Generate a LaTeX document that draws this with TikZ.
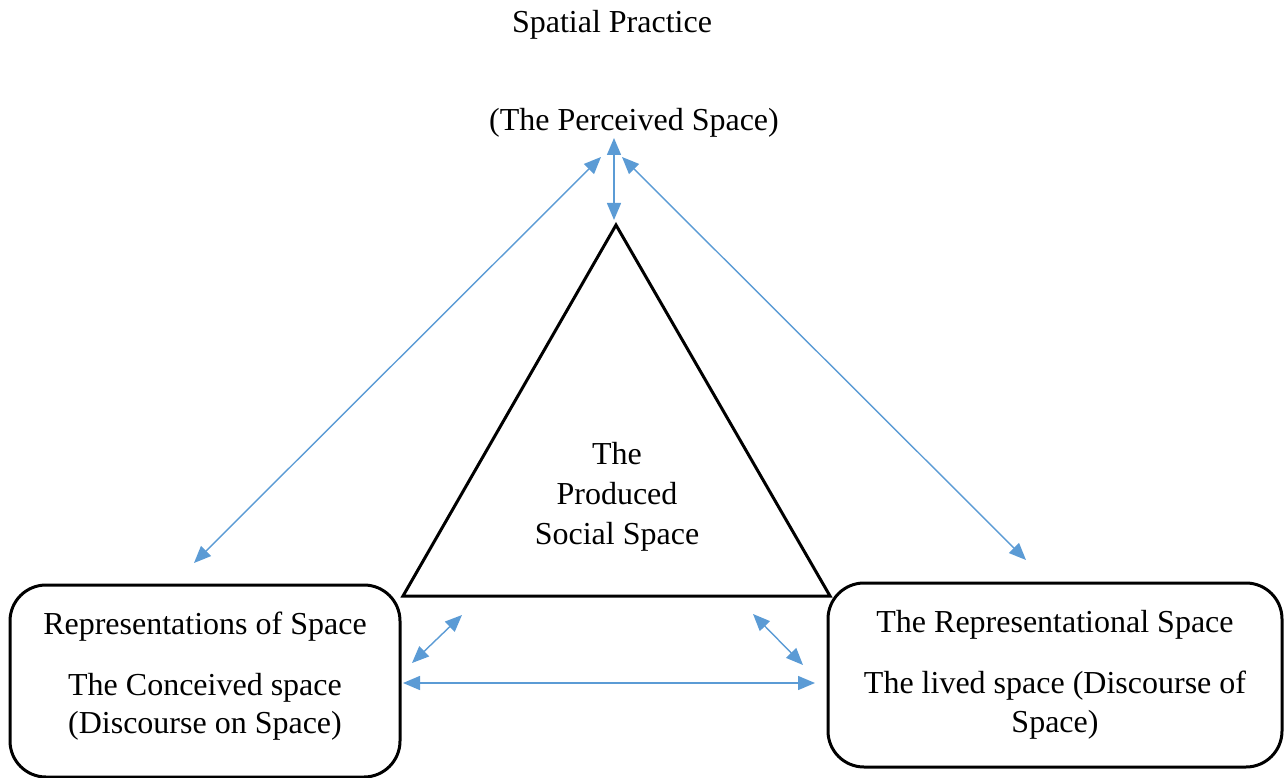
\documentclass[tikz,border=0pt]{standalone}
\usepackage{fontspec}
\setmainfont{Liberation Serif}
\usetikzlibrary{arrows.meta}
\definecolor{arrowblue}{HTML}{5B9BD5}
\tikzset{
  lbl/.style={font=\fontsize{32}{38}\selectfont, anchor=base, inner sep=0pt},
  boxshape/.style={draw=black, line width=3pt, rounded corners=36pt},
  tri/.style={draw=black, line width=3pt, line join=miter},
  link/.style={draw=arrowblue, line width=1.4pt, {Triangle[length=17pt,width=14pt]}-{Triangle[length=17pt,width=14pt]}}
}
\begin{document}
\begin{tikzpicture}[x=1pt,y=-1pt]
\useasboundingbox (0,0) rectangle (1285,778);
% titles
\node[lbl] (sp) at (612,33) {Spatial Practice};
\node[lbl] (ps) at (634,131) {(The Perceived Space)};
% triangle
\coordinate (apex) at (616,225);
\coordinate (bl) at (403,596);
\coordinate (br) at (830,596);
\draw[tri] (apex) -- (bl) -- (br) -- cycle;
\node[lbl] (t1) at (617,464) {The};
\node[lbl] (t2) at (617,504) {Produced};
\node[lbl] (t3) at (617,544) {Social Space};
% left box
\draw[boxshape] (10,585) rectangle (400,777);
\node[lbl] (l1) at (205,634) {Representations of Space};
\node[lbl] (l2) at (205,695) {The Conceived space};
\node[lbl] (l3) at (205,733) {(Discourse on Space)};
% right box
\draw[boxshape] (828,583) rectangle (1282,767);
\node[lbl] (r1) at (1055,632) {The Representational Space};
\node[lbl] (r2) at (1055,693) {The lived space (Discourse of};
\node[lbl] (r3) at (1055,732) {Space)};
% arrow endpoints
\coordinate (vTop) at (614,138);
\coordinate (vBot) at (614,220);
\coordinate (dlTop) at (601,157);
\coordinate (dlBot) at (194,563);
\coordinate (drTop) at (622,157);
\coordinate (drBot) at (1026,560);
\coordinate (slTop) at (462,615);
\coordinate (slBot) at (412,663);
\coordinate (srTop) at (753,614);
\coordinate (srBot) at (803,665);
\coordinate (hL) at (403,683);
\coordinate (hR) at (815,683);
\draw[link] (vTop) -- (vBot);
\draw[link] (dlTop) -- (dlBot);
\draw[link] (drTop) -- (drBot);
\draw[link] (slTop) -- (slBot);
\draw[link] (srTop) -- (srBot);
\draw[link] (hL) -- (hR);
\end{tikzpicture}
\end{document}
